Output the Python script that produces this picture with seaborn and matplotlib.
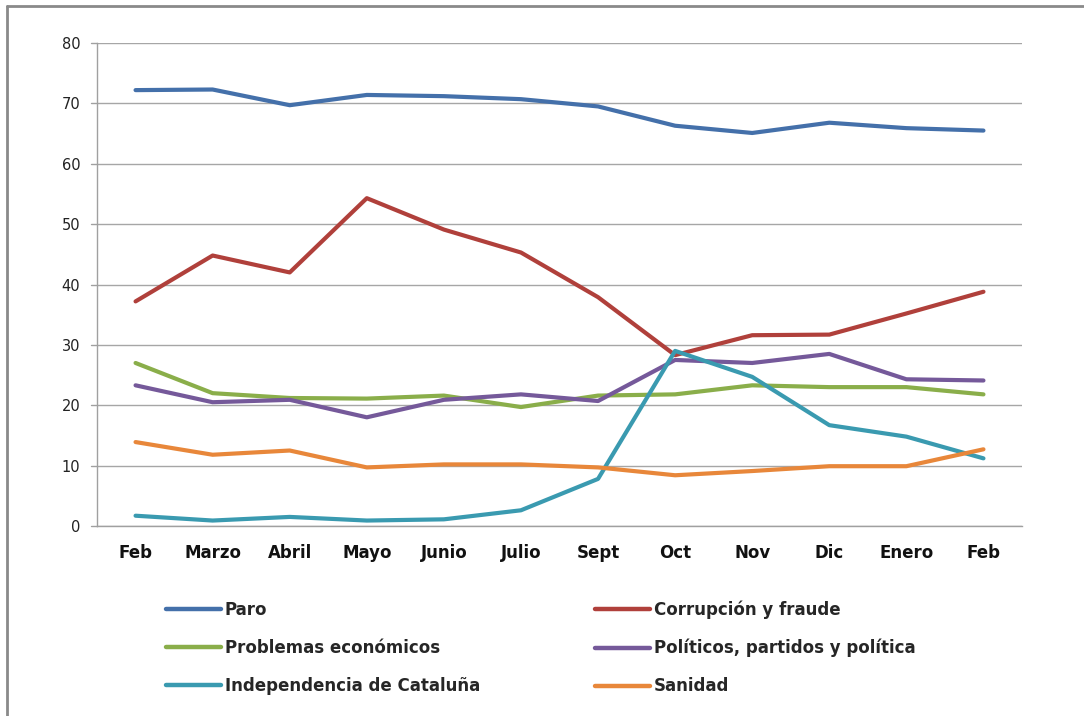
#!/usr/bin/env python3
"""Barómetro: principales problemas (línea por categoría)."""

import pandas as pd
import seaborn as sns
import matplotlib.pyplot as plt
from matplotlib.lines import Line2D

# --- Data ---

months = ["Feb", "Marzo", "Abril", "Mayo", "Junio", "Julio",
          "Sept", "Oct", "Nov", "Dic", "Enero", "Feb"]

paro = [72.2, 72.3, 69.7, 71.4, 71.2, 70.7, 69.5, 66.3, 65.1, 66.8, 65.9, 65.5]
corrupcion = [37.2, 44.8, 42.0, 54.3, 49.1, 45.3, 37.9, 28.3, 31.6, 31.7, 35.2, 38.8]
problemas_econ = [27.0, 22.0, 21.2, 21.1, 21.6, 19.7, 21.6, 21.8, 23.3, 23.0, 23.0, 21.8]
politicos = [23.3, 20.5, 20.9, 18.0, 20.9, 21.8, 20.7, 27.5, 27.0, 28.5, 24.3, 24.1]
independencia = [1.7, 0.9, 1.5, 0.9, 1.1, 2.6, 7.8, 29.0, 24.7, 16.7, 14.8, 11.2]
sanidad = [13.9, 11.8, 12.5, 9.7, 10.2, 10.2, 9.7, 8.4, 9.1, 9.9, 9.9, 12.7]

series = {
    "Paro": paro,
    "Corrupción y fraude": corrupcion,
    "Problemas económicos": problemas_econ,
    "Políticos, partidos y política": politicos,
    "Independencia de Cataluña": independencia,
    "Sanidad": sanidad,
}
colors = {
    "Paro": "#4470AA",
    "Corrupción y fraude": "#B0403B",
    "Problemas económicos": "#8AAE4A",
    "Políticos, partidos y política": "#75599A",
    "Independencia de Cataluña": "#3A9AB0",
    "Sanidad": "#E8873A",
}

# long-form frame for seaborn (x as position so the two "Feb" stay apart)
df = pd.DataFrame([
    {"pos": i, "serie": name, "valor": v}
    for name, vals in series.items()
    for i, v in enumerate(vals)
])

# --- Plot ---

sns.set_theme(style="white")
plt.rcParams["font.family"] = ["DejaVu Sans"]

fig = plt.figure(figsize=(10.84, 7.16), dpi=100)
ax = fig.add_axes([0.0895, 0.2654, 0.8533, 0.6745])

sns.lineplot(data=df, x="pos", y="valor", hue="serie", hue_order=list(series),
             palette=colors, linewidth=3, ax=ax, legend=False)

ax.set_xlim(-0.5, len(months) - 0.5)
ax.set_ylim(0, 80)
ax.set_yticks(range(0, 81, 10))
ax.set_xticks(range(len(months)))
ax.set_xticklabels(months, fontsize=12, fontweight="bold", color="#111111")
ax.tick_params(axis="y", labelsize=10.5, labelcolor="#222222", length=0, pad=12)
ax.tick_params(axis="x", length=0, pad=13)
# excel-style tick marks between categories
ax.set_xticks([i - 0.5 for i in range(len(months) + 1)], minor=True)
ax.tick_params(axis="x", which="minor", length=6, width=1.0, color="#a0a0a0")
ax.set_xlabel("")
ax.set_ylabel("")

ax.yaxis.grid(True, color="#a6a6a6", linewidth=1.0)
ax.xaxis.grid(False)
for side in ("top", "right"):
    ax.spines[side].set_visible(False)
for side in ("left", "bottom"):
    ax.spines[side].set_color("#a0a0a0")
    ax.spines[side].set_linewidth(1.0)
ax.set_axisbelow(True)

# y tick stubs to the left of the axis
for y in range(0, 81, 10):
    ax.plot([-0.58, -0.5], [y, y], color="#a0a0a0", lw=1.0, clip_on=False)

# legend: two columns, column-major order
order = ["Paro", "Problemas económicos", "Independencia de Cataluña",
         "Corrupción y fraude", "Políticos, partidos y política", "Sanidad"]
handles = [Line2D([], [], color=colors[n], lw=3.2, solid_capstyle="round") for n in order]
fig.legend(handles, order, loc="upper left", bbox_to_anchor=(0.145, 0.173),
           ncol=2, frameon=False, borderpad=0, handlelength=3.3,
           handletextpad=0.25, labelspacing=1.2, columnspacing=6.9,
           prop={"weight": "bold", "size": 12})

# chart frame (top and left edge visible in the screenshot)
fig.add_artist(Line2D([0.006, 1.0], [0.991, 0.991], color="#8a8a8a", lw=2,
                      transform=fig.transFigure))
fig.add_artist(Line2D([0.006, 0.006], [0.0, 0.991], color="#8a8a8a", lw=2,
                      transform=fig.transFigure))

fig.savefig("out.png", dpi=100)
